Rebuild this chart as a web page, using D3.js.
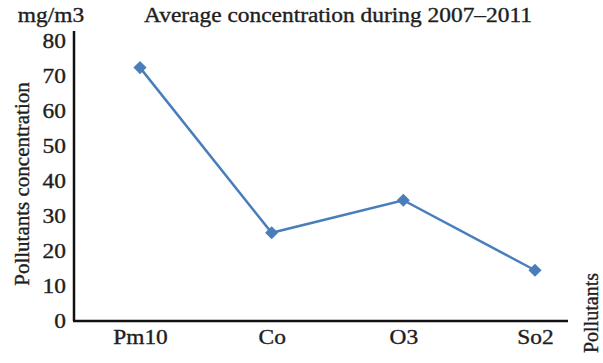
<html>
<head>
<script src="https://cdn.jsdelivr.net/npm/d3@7"></script>
<style>
  body { margin:0; background:#fff; }
  svg text { font-family:"Liberation Serif","Times New Roman",serif !important; fill:#1e1e1e; stroke:#1e1e1e; stroke-width:0.35px; }
</style>
</head>
<body>
<div id="chart"></div>
<script>
var pollutants = ["Pm10", "Co", "O3", "So2"];
var concentration = [72.4, 25.2, 34.5, 14.5];
var yTicks = [0, 10, 20, 30, 40, 50, 60, 70, 80];

var W = 603, H = 363;
var svg = d3.select("#chart").append("svg")
  .attr("width", W)
  .attr("height", H);

// the source picture is a bit wider than tall, so widen the glyphs
function widen(sel, k){
  sel.each(function(){
    var w = this.getComputedTextLength();
    d3.select(this).attr("textLength", w * k).attr("lengthAdjust", "spacingAndGlyphs");
  });
}

var x = d3.scalePoint().domain(pollutants).range([140, 535]);
var y = d3.scaleLinear().domain([0, 80]).range([321, 41]);

// y axis
var yAxis = svg.append("g")
  .attr("transform", "translate(74,0)")
  .call(d3.axisLeft(y).tickValues(yTicks).tickSize(0).tickPadding(8));
yAxis.select(".domain").attr("stroke", "#111").attr("stroke-width", 2.5)
  .attr("d", "M0," + y(0) + "V" + 31);
yAxis.selectAll("text").style("font-size", "20px").attr("dy", "0.34em");
widen(yAxis.selectAll("text"), 1.17);

// x axis
var xAxis = svg.append("g")
  .attr("transform", "translate(0," + y(0) + ")")
  .call(d3.axisBottom(x).tickSize(0).tickPadding(9));
xAxis.select(".domain").attr("stroke", "#111").attr("stroke-width", 2.5)
  .attr("d", "M73,0H568");
xAxis.selectAll("text").style("font-size", "20px");
widen(xAxis.selectAll("text"), 1.17);

// line
var line = d3.line()
  .x(function(d, i){ return x(pollutants[i]); })
  .y(function(d){ return y(d); });
svg.append("path")
  .datum(concentration)
  .attr("d", line)
  .attr("fill", "none")
  .attr("stroke", "#4a7ebb")
  .attr("stroke-width", 2.5);

svg.selectAll(".pt")
  .data(concentration)
  .enter().append("path")
    .attr("class", "pt")
    .attr("d", d3.symbol().type(d3.symbolDiamond2).size(110))
    .attr("transform", function(d, i){ return "translate(" + x(pollutants[i]) + "," + y(d) + ")"; })
    .attr("fill", "#4a7ebb");

// titles
var title = svg.append("text")
  .attr("x", 338).attr("y", 22)
  .attr("text-anchor", "middle")
  .style("font-size", "20px")
  .text("Average concentration during 2007–2011");
widen(title, 1.17);

var unit = svg.append("text")
  .attr("x", 51).attr("y", 22)
  .attr("text-anchor", "middle")
  .style("font-size", "20px")
  .text("mg/m3");
widen(unit, 1.17);

svg.append("text")
  .attr("transform", "translate(29,184) rotate(-90)")
  .attr("text-anchor", "middle")
  .style("font-size", "21px")
  .text("Pollutants concentration");

svg.append("text")
  .attr("transform", "translate(598,313) rotate(-90)")
  .attr("text-anchor", "middle")
  .style("font-size", "20px")
  .text("Pollutants");
</script>
</body>
</html>
